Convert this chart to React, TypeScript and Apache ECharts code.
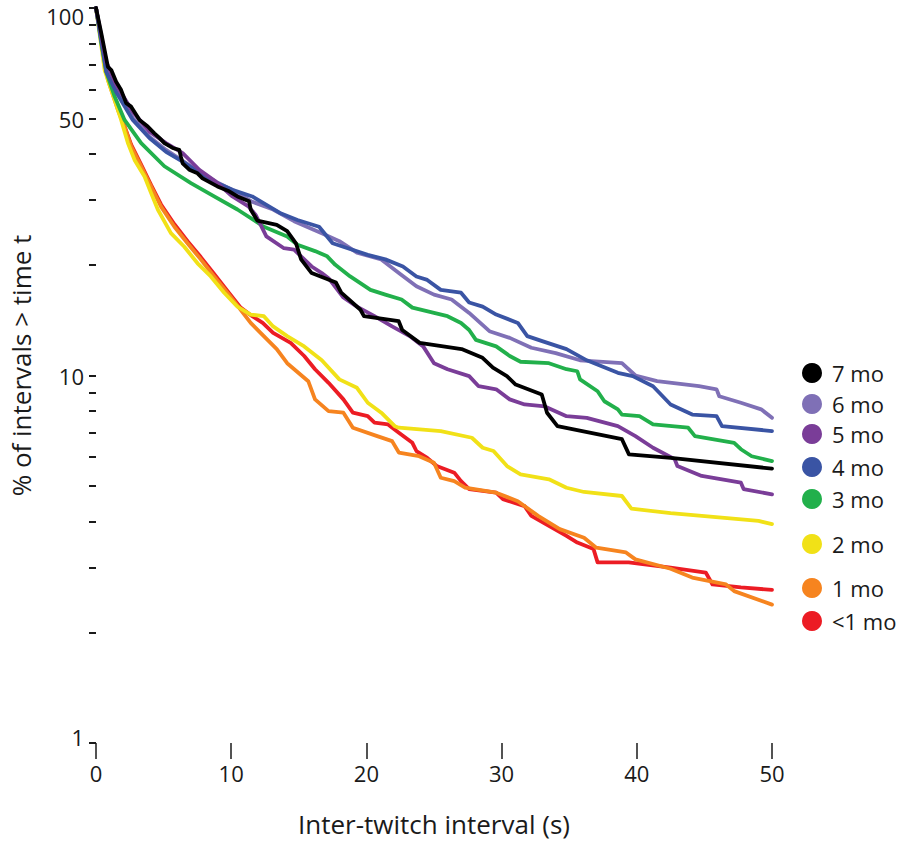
import React, { useEffect, useRef } from "react";
import * as echarts from "echarts";

// ---- data: [interval t (s), % of intervals > t] ----
const MO7: [number, number][] = [
  [0, 100], [0.39, 85.4], [0.88, 69.2], [1.13, 67.8], [1.49, 63.0], [1.86, 59.8], [2.23, 55.1], [2.6, 53.9],
  [3.22, 49.6], [3.83, 47.6], [4.32, 45.6], [4.69, 44.3], [5.06, 42.9], [5.67, 41.6], [6.16, 41.1], [6.28, 39.4],
  [6.41, 37.8], [6.9, 36.3], [7.51, 35.5], [7.88, 34.4], [8.98, 32.7], [9.85, 31.7], [10.46, 30.7], [11.32, 29.8],
  [11.44, 28.3], [11.93, 26.4], [13.37, 25.7], [14.14, 24.7], [14.79, 22.9], [15.17, 20.7], [15.95, 19.0],
  [17.75, 17.9], [18.14, 16.8], [19.56, 15.1], [19.82, 14.5], [22.39, 14.05], [22.65, 13.3], [23.94, 12.27],
  [27.04, 11.8], [28.59, 11.17], [29.36, 10.5], [30.39, 9.96], [31.04, 9.45], [32.97, 8.88], [33.36, 7.92],
  [34.13, 7.28], [38.9, 6.71], [39.42, 6.1], [42.52, 5.97], [50, 5.58],
];
const MO6: [number, number][] = [
  [0, 100], [0.76, 68.7], [1.49, 60.6], [2.72, 50.2], [3.95, 44.6], [5.18, 41.1], [6.41, 38.4], [7.64, 35.8],
  [8.86, 33.7], [10.09, 32.0], [11.56, 29.7], [13.1, 28.3], [14.65, 26.3], [16.7, 24.4], [18.0, 23.2],
  [19.3, 21.6], [21.1, 20.7], [22.4, 19.0], [23.7, 17.5], [25.0, 16.6], [26.3, 16.1], [27.6, 14.8], [29.1, 13.2],
  [30.6, 12.66], [32.2, 11.9], [34.0, 11.5], [35.8, 11.0], [38.9, 10.8], [39.9, 10.0], [41.5, 9.65], [44.6, 9.35],
  [45.9, 9.17], [46.1, 8.78], [47.7, 8.43], [49.2, 8.09], [50, 7.67],
];
const MO5: [number, number][] = [
  [0, 100], [0.76, 71.3], [1.49, 61.8], [2.72, 52.2], [3.95, 46.1], [5.18, 42.9], [6.41, 40.3], [7.64, 36.3],
  [8.86, 33.7], [10.09, 30.7], [11.3, 28.8], [11.8, 27.4], [12.6, 23.9], [13.9, 22.2], [14.65, 22.0], [15.95, 19.8],
  [16.7, 19.0], [17.2, 18.4], [18.3, 16.3], [19.3, 15.4], [20.6, 14.5], [21.9, 13.6], [23.2, 12.8], [24.2, 12.0],
  [25.0, 10.8], [26.0, 10.4], [27.6, 9.96], [28.3, 9.35], [29.6, 9.17], [30.6, 8.61], [31.7, 8.34], [33.2, 8.24],
  [34.8, 7.75], [36.3, 7.67], [38.6, 7.28], [39.9, 6.84], [41.2, 6.36], [42.8, 5.92], [43.0, 5.67], [44.8, 5.33],
  [47.7, 5.11], [47.9, 4.91], [50, 4.75],
];
const MO4: [number, number][] = [
  [0, 100], [0.76, 67.0], [1.49, 59.1], [2.72, 49.6], [3.95, 44.3], [5.18, 40.6], [6.41, 38.2], [7.64, 35.6],
  [8.86, 33.5], [10.09, 32.0], [11.56, 30.7], [13.6, 27.7], [14.9, 26.5], [16.5, 25.4], [17.5, 22.9], [20.1, 21.3],
  [21.4, 20.7], [22.7, 19.8], [23.7, 18.6], [24.5, 18.2], [25.5, 17.1], [27.0, 16.8], [27.6, 15.8], [28.6, 15.4],
  [29.6, 14.65], [31.2, 13.9], [31.9, 12.8], [33.0, 12.4], [34.8, 11.8], [36.3, 11.0], [38.6, 10.17], [39.7, 9.96],
  [41.2, 9.35], [42.5, 8.34], [44.1, 7.83], [45.9, 7.75], [46.3, 7.28], [50, 7.06],
];
const MO3: [number, number][] = [
  [0, 100], [0.4, 80], [0.76, 67], [1.38, 57.4], [2.11, 49.6], [3.34, 42.9], [5.06, 37.1], [7.02, 33.4],
  [8.74, 30.7], [10.46, 28.3], [12.42, 25.4], [14.14, 23.9], [14.9, 22.7], [16.2, 21.8], [17.1, 21.1], [17.7, 20.0],
  [18.8, 18.6], [20.3, 17.1], [21.4, 16.6], [22.6, 16.1], [23.4, 15.3], [25.0, 14.8], [26.0, 14.5], [27.0, 13.9],
  [27.6, 13.3], [28.1, 12.5], [29.6, 12.0], [30.6, 11.3], [31.4, 10.9], [33.5, 10.8], [34.8, 10.4], [35.6, 10.27],
  [35.8, 9.76], [37.1, 9.06], [37.6, 8.51], [38.6, 8.09], [38.9, 7.83], [40.2, 7.75], [41.2, 7.36], [43.8, 7.21],
  [44.3, 6.84], [47.2, 6.56], [47.7, 6.3], [48.5, 6.03], [50, 5.85],
];
const MO2: [number, number][] = [
  [0, 100], [0.64, 67.8], [1.38, 56.2], [1.86, 49.6], [2.36, 42.9], [2.85, 38.6], [3.59, 34.8], [4.07, 31.4],
  [4.57, 28.3], [5.54, 24.4], [6.53, 22.4], [7.51, 20.2], [8.49, 18.6], [9.48, 16.8], [10.46, 15.4], [11.44, 14.65],
  [12.42, 14.5], [13.1, 13.6], [14.14, 12.8], [15.4, 12.0], [16.7, 11.0], [18.0, 9.76], [19.3, 9.26], [20.1, 8.43],
  [21.1, 7.92], [22.1, 7.28], [22.4, 7.21], [25.5, 7.06], [27.8, 6.77], [28.6, 6.36], [29.4, 6.23], [30.4, 5.67],
  [31.4, 5.38], [33.5, 5.22], [34.8, 4.95], [36.1, 4.82], [38.9, 4.7], [39.6, 4.34], [42.5, 4.22], [49.0, 4.02],
  [50, 3.94],
];
const MO1: [number, number][] = [
  [0, 100], [0.88, 63.7], [1.62, 52.8], [2.11, 47.6], [2.6, 42.0], [3.34, 37.1], [4.07, 32.7], [4.81, 28.8],
  [5.8, 25.4], [6.77, 22.9], [7.75, 20.7], [8.74, 18.6], [9.72, 16.8], [10.7, 15.1], [11.44, 13.9], [12.17, 13.06],
  [13.37, 11.8], [14.14, 10.8], [15.7, 9.65], [16.2, 8.61], [17.2, 8.0], [18.3, 7.92], [19.0, 7.21], [20.8, 6.84],
  [21.9, 6.63], [22.4, 6.17], [23.9, 6.03], [25.0, 5.79], [25.5, 5.27], [26.5, 5.16], [27.3, 4.95], [29.6, 4.8],
  [31.2, 4.55], [32.7, 4.15], [34.3, 3.82], [36.1, 3.62], [37.0, 3.4], [39.2, 3.3], [39.9, 3.16], [42.5, 2.98],
  [44.1, 2.82], [46.6, 2.7], [47.2, 2.59], [50, 2.38],
];
const MO0: [number, number][] = [
  [0, 100], [0.88, 64.5], [1.62, 53.5], [2.6, 42.5], [3.34, 37.5], [4.07, 33.0], [4.81, 29.2], [5.8, 25.8],
  [6.77, 23.2], [7.75, 21.0], [8.74, 18.9], [9.72, 17.0], [10.7, 15.3], [11.56, 14.5], [12.33, 13.9], [13.1, 13.06],
  [14.4, 12.27], [15.4, 11.3], [16.2, 10.4], [17.2, 9.55], [18.3, 8.61], [19.0, 7.92], [20.1, 7.75], [20.6, 7.44],
  [21.6, 7.36], [22.4, 6.99], [23.4, 6.56], [23.7, 6.23], [24.5, 5.97], [25.2, 5.67], [26.5, 5.44], [27.0, 5.16],
  [27.6, 4.91], [29.6, 4.8], [30.1, 4.61], [31.7, 4.41], [32.2, 4.15], [33.5, 3.9], [34.8, 3.66], [35.6, 3.51],
  [36.8, 3.37], [37.1, 3.1], [39.4, 3.1], [42.5, 3.0], [45.1, 2.91], [45.6, 2.7], [47.7, 2.65], [50, 2.61],
];

const NAMES = ["7 mo", "6 mo", "5 mo", "4 mo", "3 mo", "2 mo", "1 mo", "<1 mo"];
const COLORS = ["#000000", "#7f70b6", "#7a3d98", "#3a54a4", "#22b04b", "#f1e117", "#f6841f", "#ec1c24"];
const DATA = [MO7, MO6, MO5, MO4, MO3, MO2, MO1, MO0];
// draw order (first = bottom)
const DRAW_ORDER = [7, 6, 5, 4, 1, 3, 2, 0];
// legend row centres (px)
const LEGEND_Y = [372, 403, 433, 466, 498, 543, 587, 620];

const X_TICKS_MAX = 50;
const Y_TICK_VALUES = [1, 2, 3, 4, 5, 6, 7, 8, 9, 10, 20, 30, 40, 50, 60, 70, 80, 90, 100];
const Y_LABEL_VALUES = [1, 10, 50, 100];

const FONT = "'Open Sans', 'Noto Sans', sans-serif";

export default function App() {
  const ref = useRef<HTMLDivElement>(null);
  useEffect(() => {
    if (!ref.current) return;
    const chart = echarts.init(ref.current, undefined, { renderer: "svg" });
    const series = DRAW_ORDER.map((i) => ({
      type: "line",
      name: NAMES[i],
      data: DATA[i],
      yAxisIndex: 0,
      showSymbol: false,
      symbol: "none",
      silent: true,
      color: COLORS[i],
      lineStyle: { width: 3.8, color: COLORS[i], cap: "round", join: "round" },
    }));
    const legends = NAMES.map((n, i) => ({
      data: [n],
      left: 802,
      top: LEGEND_Y[i] - 10,
      icon: "circle",
      itemWidth: 20,
      itemHeight: 20,
      padding: 0,
      selectedMode: false,
      textStyle: { fontSize: 22, color: "#1a1a1a", fontFamily: FONT, padding: [0, 0, 0, 5] },
    }));
    const labelStyle = { fontSize: 22, color: "#1a1a1a", fontFamily: FONT };
    chart.setOption({
      animation: false,
      textStyle: { fontFamily: FONT },
      grid: { left: 93, top: 8, width: 679, height: 736, containLabel: false },
      legend: legends,
      xAxis: {
        type: "value",
        min: 0,
        max: X_TICKS_MAX,
        interval: 10,
        name: "Inter-twitch interval (s)",
        nameLocation: "middle",
        nameGap: 68,
        nameTextStyle: { fontSize: 26, color: "#1a1a1a", fontFamily: FONT },
        axisLine: { show: false },
        axisTick: { show: true, length: 16, lineStyle: { color: "#1a1a1a", width: 1.5 } },
        axisLabel: { fontSize: 22, color: "#1a1a1a", margin: 19, fontFamily: FONT },
        splitLine: { show: false },
      },
      yAxis: [
        { type: "log", logBase: 10, min: 1, max: 100, show: false, position: "left" },
        {
          type: "value",
          position: "left",
          offset: 0,
          min: 0,
          max: 2,
          name: "% of intervals > time t",
          nameLocation: "middle",
          nameGap: 62,
          nameTextStyle: { fontSize: 26, color: "#1a1a1a", fontFamily: FONT, padding: [0, 0, 0, 20] },
          axisLine: { show: false },
          axisTick: {
            show: true,
            length: 7,
            customValues: Y_TICK_VALUES.map((v) => Math.log10(v)),
            lineStyle: { color: "#1a1a1a", width: 2 },
          },
          axisLabel: {
            ...labelStyle,
            margin: 12,
            customValues: Y_LABEL_VALUES.map((v) => Math.log10(v)),
            formatter: (v: number) => {
              const n = Math.round(Math.pow(10, v));
              if (n === 100) return "{top|100}";
              if (n === 1) return "{bot|1}";
              return "{mid|" + n + "}";
            },
            rich: {
              top: { ...labelStyle, padding: [16, 0, 0, 0] },
              bot: { ...labelStyle, padding: [0, 0, 12, 0] },
              mid: { ...labelStyle },
            },
          },
          splitLine: { show: false },
        },
      ],
      series,
    });
    return () => chart.dispose();
  }, []);
  return (
    <div
      ref={ref}
      style={{ position: "fixed", left: 0, top: 0, width: 900, height: 842, background: "#fff" }}
    />
  );
}
